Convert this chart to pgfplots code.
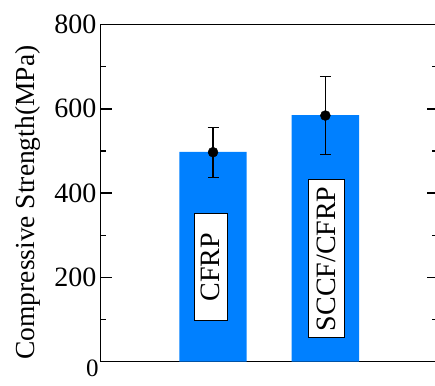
\documentclass[border=0pt]{standalone}
\usepackage{fontspec}
\setmainfont{Liberation Serif}[Ligatures=TeX]
\newfontfamily\tms{Liberation Serif}
\usepackage{pgfplots}
\pgfplotsset{compat=1.18}
\definecolor{barblue}{RGB}{0,128,255}
\begin{document}
\begin{tikzpicture}[font=\tms]
\path[use as bounding box] (-100.7pt,-23.3pt) rectangle (334.3pt,361.7pt);
\begin{axis}[
  at={(0pt,0pt)}, anchor=south west,
  scale only axis, width=337pt, height=337.2pt,
  xmin=0, xmax=3, ymin=0, ymax=800,
  xtick=\empty,
  ytick={0,200,400,600,800},
  yticklabels={,200,400,600,800},
  minor y tick num=1,
  tick align=inside, ytick pos=both,
  major tick length=11pt, minor tick length=5.5pt,
  axis line style={line width=1.5pt},
  every tick/.style={line width=1.4pt, black},
  yticklabel style={inner sep=0pt, xshift=-4pt, font=\tms\fontsize{28}{30}\selectfont},
  /pgf/number format/assume math mode=true,
  clip=false,
]
\addplot[ybar, bar width=0.6, bar shift=0pt, fill=barblue, draw=none] coordinates {(1,498) (2,585)};
\addplot[only marks, mark=*, mark size=5pt, black,
  error bars/.cd, y dir=both, y explicit,
  error bar style={line width=1.3pt, black},
  error mark options={rotate=90, mark size=5.5pt, line width=1.3pt, black}]
  coordinates {(1,497) += (0,59) -= (0,60) (2,584) += (0,92) -= (0,92)};
\node[rotate=90, draw=black, line width=0.8pt, fill=white, inner sep=0pt, minimum width=107pt, minimum height=33pt, font=\tms\fontsize{28}{30}\selectfont] at (axis cs:0.98,224) {CFRP};
\node[rotate=90, draw=black, line width=0.8pt, fill=white, inner sep=0pt, minimum width=158pt, minimum height=36.6pt, font=\tms\fontsize{28}{30}\selectfont] at (axis cs:2.01,244) {SCCF/CFRP};
\node[anchor=north east, inner sep=0pt, font=\tms\fontsize{25}{27}\selectfont] at ([xshift=-2pt,yshift=2pt]rel axis cs:0,0) {0};
\node[rotate=90, anchor=base, inner sep=0pt, font=\tms\fontsize{27.5}{30}\selectfont] at ([xshift=-65.7pt]rel axis cs:0,0.472) {Compressive Strength(MPa)};
\end{axis}
\end{tikzpicture}
\end{document}
